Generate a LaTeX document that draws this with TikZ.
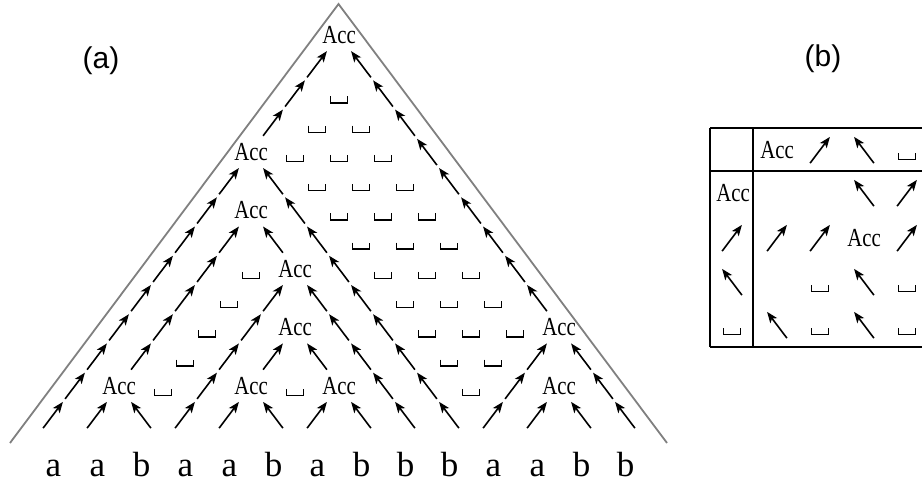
\documentclass[tikz,border=0pt]{standalone}
\usepackage{fontspec}
\usepackage{graphicx}
\setmainfont{Liberation Serif}
\newfontfamily\labelsans{Liberation Sans}
\usetikzlibrary{arrows.meta}
\newcommand\mkR[3]{\draw[arr,shift={(#1,#2)}] (-9.9,13.1) -- (9.9,-13.1);}
\newcommand\mkL[3]{\draw[arr,shift={(#1,#2)}] (9.9,13.1) -- (-9.9,-13.1);}
\newcommand\mkS[3]{\draw[vs,shift={(#1,#2)}] (-8.7,3) -- (-8.7,9.5) -- (8.7,9.5) -- (8.7,3);}
\newcommand\mkA[3]{\node[acc] (#3) at (#1,#2) {\scalebox{0.8}[1]{Acc}};}
\begin{document}
\begin{tikzpicture}[x=1pt,y=-1pt,
  arr/.style={line width=1.6pt,-{Stealth[length=11pt,width=8.5pt,inset=2.8pt]}},
  vs/.style={line width=1.4pt},
  tri/.style={draw=black!50,line width=1.8pt},
  tab/.style={line width=1.6pt},
  acc/.style={inner sep=0pt,font=\fontsize{26}{26}\selectfont},
  letter/.style={inner sep=0pt,anchor=base,font=\fontsize{35}{35}\selectfont},
  panel/.style={inner sep=0pt,font=\labelsans\fontsize{30}{30}\selectfont}]
\useasboundingbox (0,0) rectangle (922,482);
% outline of the triangle
\coordinate (tl) at (10,443);
\coordinate (tt) at (338.5,4);
\coordinate (tr) at (667,443);
\draw[tri] (tl) -- (tt) -- (tr);
% panel labels
\node[panel] (pa) at (101,61) {(a)};
\node[panel] (pb) at (823,59) {(b)};
% triangle cells
\foreach \r/\cells in {
  0/{R,R,L,R,R,L,R,L,L,L,R,R,L,L},
  1/{R,A,S,R,A,S,A,L,L,S,R,A,L},
  2/{R,R,S,R,R,L,L,L,S,S,R,L},
  3/{R,R,S,R,A,L,L,S,S,S,A},
  4/{R,R,S,R,L,L,S,S,S,L},
  5/{R,R,S,A,L,S,S,S,L},
  6/{R,R,L,L,S,S,S,L},
  7/{R,A,L,S,S,S,L},
  8/{R,L,S,S,S,L},
  9/{A,S,S,S,L},
  10/{R,S,S,L},
  11/{R,S,L},
  12/{R,L},
  13/{A}}{
  \foreach \c [count=\i from 0] in \cells {
    \pgfmathsetmacro\cx{53+22*\r+44*\i}
    \pgfmathsetmacro\cy{415-29.23*\r}
    \csname mk\c\endcsname{\cx}{\cy}{t\r-\i}
  }
}
% input word
\foreach \l [count=\i from 0] in {a,a,b,a,a,b,a,b,b,b,a,a,b,b}
  \node[letter] (w\i) at ({53.5+44*\i},476) {\l};
% table (b)
\draw[tab] (710,128) -- (922,128);
\draw[tab] (710,171) -- (922,171);
\draw[tab] (710,347) -- (922,347);
\draw[tab] (710,128) -- (710,347);
\draw[tab] (753,128) -- (753,347);
% header row
\mkA{777}{150}{hA}
\mkR{820}{150}{hR}
\mkL{864}{150}{hL}
\mkS{907}{150}{hS}
% header column
\mkA{733}{193}{vA}
\mkR{732}{238}{vR}
\mkL{732}{282}{vL}
\mkS{732}{325}{vS}
% entries
\mkL{864}{193}{e11}
\mkR{907}{193}{e12}
\mkR{777}{238}{e20}
\mkR{820}{238}{e21}
\mkA{864}{238}{e22}
\mkR{907}{238}{e23}
\mkS{820}{282}{e31}
\mkL{864}{282}{e32}
\mkS{907}{282}{e33}
\mkL{777}{325}{e40}
\mkS{820}{325}{e41}
\mkL{864}{325}{e42}
\mkS{907}{325}{e43}
\end{tikzpicture}
\end{document}
